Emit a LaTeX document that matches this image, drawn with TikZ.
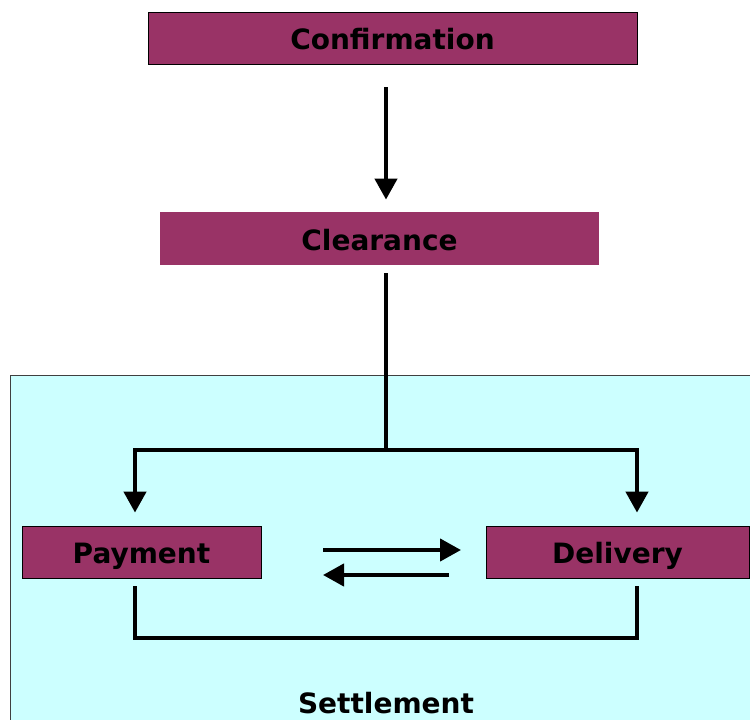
\documentclass[tikz,border=0pt]{standalone}
\usepackage{fontspec}
\setmainfont{DejaVu Sans}
\usetikzlibrary{arrows.meta}
\definecolor{plum}{HTML}{993366}
\definecolor{paleblue}{HTML}{CCFFFF}
\tikzset{caption/.style={inner sep=0pt, text height=23.5pt, text depth=0pt, font=\fontsize{28}{32}\selectfont\bfseries}}
\tikzset{stage/.style={caption, rectangle, draw=black, line width=0.8pt, fill=plum}}
\tikzset{flow/.style={line width=4.3pt, -{Triangle[width=22pt,length=21pt]}}}
\tikzset{link/.style={line width=4.3pt, line cap=rect}}

\begin{document}
\begin{tikzpicture}[x=1pt, y=-1pt]

    \clip (0,0) rectangle (750,720);
    \fill[white] (0,0) rectangle (750,720);

    % settlement area
    \draw[fill=paleblue, draw=black!75, line width=1pt] (10,375) rectangle (760,730);
    \node[caption] (settle) at (386,702) {Settlement};

    \node[stage, minimum width=489pt, minimum height=52pt] (conf) at (392.5,38) {Confirmation};
    \node[stage, draw=none, minimum width=439pt, minimum height=53pt] (clear) at (379.5,238.5) {Clearance};
    \node[stage, minimum width=239pt, minimum height=52pt] (pay) at (141.5,552) {Payment};
    \node[stage, minimum width=263pt, minimum height=52pt] (deliv) at (617.5,552) {Delivery};

    \coordinate (fork) at (386,450);
    \coordinate (payin) at (135,450);
    \coordinate (delin) at (637,450);
    \coordinate (payout) at (135,588);
    \coordinate (delout) at (637,588);
    \coordinate (base) at (386,638);
    \coordinate (sendA) at (323,550);
    \coordinate (sendB) at (461,550);
    \coordinate (backA) at (449,575);
    \coordinate (backB) at (323,575);

    \draw[flow, shorten <=23pt, shorten >=12pt] (conf.south -| fork) -- (clear.north -| fork);
    \draw[link, shorten <=10pt] (clear.south -| fork) -- (fork);
    \draw[flow, shorten >=13pt] (fork) -- (payin) -- (pay.north -| payin);
    \draw[flow, shorten >=13pt] (fork) -- (delin) -- (deliv.north -| delin);
    \draw[link] (payout) -- (payout |- base) -- (delout |- base) -- (delout);

    \draw[flow] (sendA) -- (sendB);
    \draw[flow] (backA) -- (backB);

\end{tikzpicture}
\end{document}
